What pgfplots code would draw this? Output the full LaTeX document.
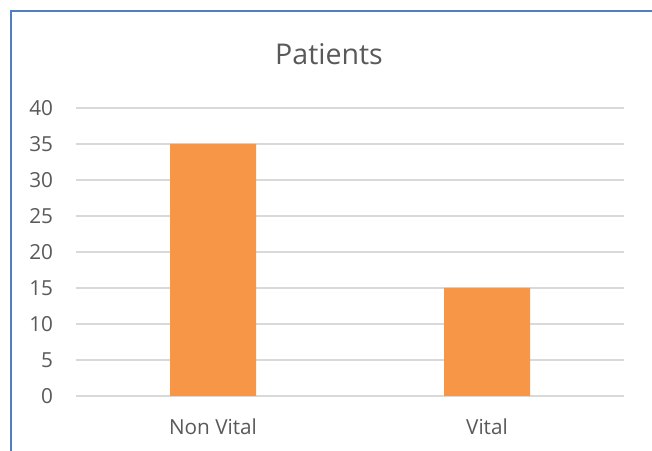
\documentclass[border=0pt]{standalone}
\usepackage{pgfplots}
\pgfplotsset{compat=1.18}
\usepackage{fontspec}
\setmainfont{Open Sans}
\definecolor{barorange}{HTML}{F79646}
\definecolor{gridgray}{HTML}{D9D9D9}
\definecolor{txtgray}{HTML}{595959}
\definecolor{frameblue}{HTML}{4F81BD}
\begin{document}
\begin{tikzpicture}[x=0.75bp,y=0.75bp]
\path[use as bounding box] (0,0) rectangle (652,451);
\draw[frameblue, line width=1.5bp] (11,0) -- (11,440) -- (652,440);
\node[anchor=base, text=txtgray, font=\fontsize{21.5}{26}\selectfont, inner sep=0] at (329,386) {Patients};
\begin{axis}[
  at={(57bp,41.25bp)}, anchor=south west,
  scale only axis, width=411bp, height=216bp,
  xmin=-0.5, xmax=1.5, ymin=0, ymax=40,
  ytick={0,5,...,40},
  xtick={0,1}, xticklabels={Non Vital, Vital},
  axis line style={draw=none},
  major tick length=0,
  ymajorgrids,
  grid style={gridgray, line width=1.1bp},
  /pgf/number format/assume math mode=true,
  tick label style={text=txtgray, font=\fontsize{15.6}{18}\selectfont, inner sep=0},
  yticklabel style={anchor=east, xshift=-17bp},
  xticklabel style={anchor=north, yshift=-17bp},
]
\addplot[ybar, fill=barorange, draw=none, bar width=64.5bp] coordinates {(0,35) (1,15)};
\end{axis}
\end{tikzpicture}
\end{document}
